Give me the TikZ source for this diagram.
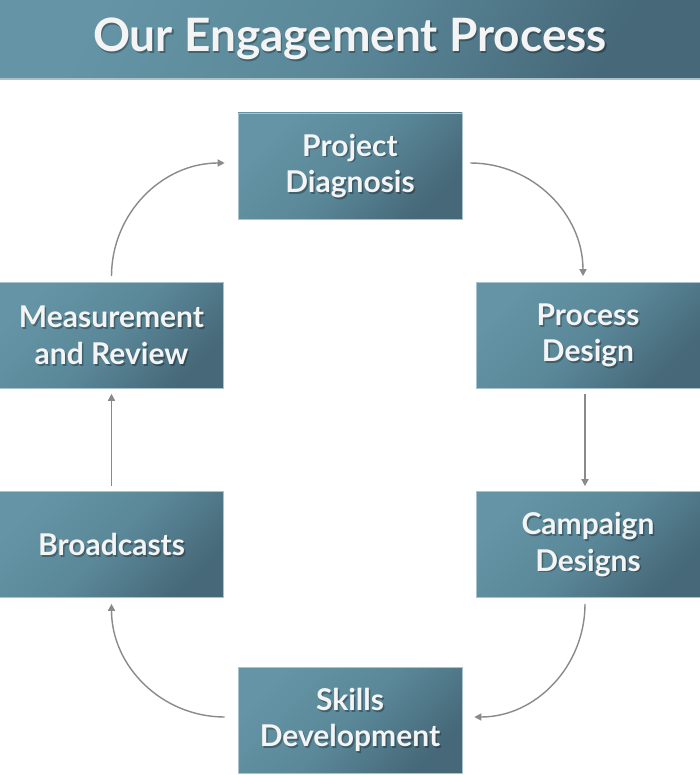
\documentclass[tikz,border=0pt]{standalone}
\usepackage{fontspec}
\setmainfont{Lato}
\usetikzlibrary{arrows.meta,calc}
\definecolor{boxlight}{HTML}{6494A5}
\definecolor{boxmid}{HTML}{5A8899}
\definecolor{boxdark}{HTML}{466878}
\definecolor{edge}{HTML}{A9C3CC}
\definecolor{arrowgrey}{HTML}{8A8A8A}
\definecolor{txtwhite}{HTML}{F4F4F4}
\tikzset{
  x=1pt, y=-1pt,
  box/.style={minimum width=224pt, minimum height=106pt, inner sep=0pt,
    left color=boxlight, right color=boxdark, middle color=boxmid, shading angle=45,
    draw=edge, line width=0.6pt},
  txt/.style={text=txtwhite, font=\bfseries\fontsize{30}{36.5}\selectfont, align=center},
  shd/.style={text=black, opacity=0.3, font=\bfseries\fontsize{30}{36.5}\selectfont, align=center},
  arr/.style={draw=arrowgrey, line width=1.4pt, -{Triangle[length=7pt,width=7pt]}}
}
\newcommand{\procbox}[3]{%
  \node[box] (#1) at (#2) {};
  \node[shd] at ($(#1.center)+(1.5,1.8)$) {#3};
  \node[txt] (#1t) at (#1.center) {#3};
}
\begin{document}
\begin{tikzpicture}
\useasboundingbox (0,0) rectangle (700,775);
\fill[white] (0,0) rectangle (700,775);
% title bar
\shade[left color=boxlight, right color=boxdark, middle color=boxmid, shading angle=60] (0,0) rectangle (700,78);
\fill[edge] (0,78) rectangle (700,80.5);
\node[text=black, opacity=0.3, font=\bfseries\fontsize{46}{50}\selectfont] at (351.5,40.5) {Our Engagement Process};
\node[text=txtwhite, font=\bfseries\fontsize{46}{50}\selectfont] (title) at (350,38.5) {Our Engagement Process};
% boxes
\procbox{pd}{350,166}{Project\\Diagnosis}
\procbox{prd}{588,335.5}{Process\\Design}
\procbox{cd}{588,544.5}{Campaign\\Designs}
\procbox{sd}{350,720}{Skills\\Development}
\procbox{br}{111.5,544.5}{Broadcasts}
\procbox{mr}{111.5,335.5}{Measurement\\and Review}
% connectors
\draw[arr] ($(pd.east)+(8,-3)$) to[out=0,in=90] ($(prd.north)+(-5,-6)$);
\draw[arr] ($(prd.south)+(-3,5)$) -- ($(cd.north)+(-3,-5)$);
\draw[arr] ($(cd.south)+(-3,6)$) to[out=-90,in=0] ($(sd.east)+(12,-3)$);
\draw[arr] ($(sd.west)+(-13,-3)$) to[out=180,in=-90] ($(br.south)+(0,6)$);
\draw[arr] ($(br.north)+(0,-5)$) -- ($(mr.south)+(0,5)$);
\draw[arr] ($(mr.north)+(0,-6)$) to[out=90,in=180] ($(pd.west)+(-13,-3)$);
\end{tikzpicture}
\end{document}
